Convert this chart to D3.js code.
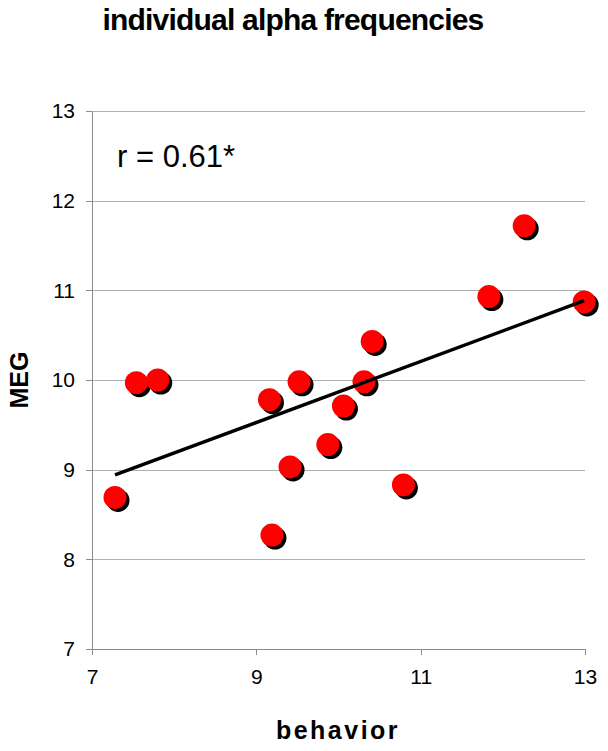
<!DOCTYPE html>
<html>
<head>
    <meta charset="utf-8">
    <title>individual alpha frequencies</title>
    <script src="https://d3js.org/d3.v7.min.js"></script>
    <style>
        body { margin: 0; background: #fff; }
        svg { display: block; font-family: "Liberation Sans", Arial, sans-serif; }
        .grid line { stroke: #b0b0b0; stroke-width: 1; }
        .axis path, .axis line { stroke: #8a8a8a; stroke-width: 1; shape-rendering: crispEdges; }
        .axis text { font-size: 21px; fill: #000; }
        .title { font-size: 30px; font-weight: bold; letter-spacing: -0.8px; }
        .axis-title { font-size: 25px; font-weight: bold; }
    </style>
</head>
<body>
<div id="chart"></div>
<script>
    // behaviour (x) vs MEG (y) individual alpha frequencies
    const behavior = [12.26, 11.83, 12.99, 10.41, 10.31, 9.52, 9.16, 10.06, 9.87, 9.41, 9.19, 10.79, 7.54, 7.80, 7.28];
    const meg      = [11.72, 10.93, 10.87, 10.43, 9.98, 9.98, 9.78, 9.71, 9.28, 9.03, 8.27, 8.83, 9.97, 10.00, 8.69];
    const xTicks = [7, 9, 11, 13];
    const yTicks = [7, 8, 9, 10, 11, 12, 13];
    const rLabel = "r = 0.61*";

    const W = 608, H = 751;
    const margin = { top: 111, right: 23, bottom: 102, left: 92 };
    const width = W - margin.left - margin.right;
    const height = H - margin.top - margin.bottom;

    const svg = d3.select("#chart").append("svg")
        .attr("width", W)
        .attr("height", H);

    const g = svg.append("g")
        .attr("transform", `translate(${margin.left},${margin.top})`);

    const x = d3.scaleLinear().domain([7, 13]).range([0, width]);
    const y = d3.scaleLinear().domain([7, 13]).range([height, 0]);

    // horizontal gridlines
    g.append("g")
        .attr("class", "grid")
        .selectAll("line")
        .data(yTicks.slice(1))
        .join("line")
        .attr("x1", 0)
        .attr("x2", width)
        .attr("y1", d => Math.round(y(d)) + 0.5)
        .attr("y2", d => Math.round(y(d)) + 0.5);

    // axes
    g.append("g")
        .attr("class", "axis")
        .attr("transform", `translate(0,${height})`)
        .call(d3.axisBottom(x).tickValues(xTicks).tickSize(6).tickSizeOuter(0).tickPadding(14).tickFormat(d3.format("d")));

    g.append("g")
        .attr("class", "axis")
        .call(d3.axisLeft(y).tickValues(yTicks).tickSize(6).tickSizeOuter(0).tickPadding(11).tickFormat(d3.format("d")));

    // points: black shadow + red dot
    const pts = behavior.map((b, i) => ({ b: b, m: meg[i] }));
    const dot = g.append("g").selectAll("g")
        .data(pts)
        .join("g");
    dot.append("circle")
        .attr("cx", d => x(d.b) + 3)
        .attr("cy", d => y(d.m) + 3)
        .attr("r", 11.5)
        .attr("fill", "#000");
    dot.append("circle")
        .attr("cx", d => x(d.b))
        .attr("cy", d => y(d.m))
        .attr("r", 11.5)
        .attr("fill", "#ff0000");

    // least-squares fit
    const mx = d3.mean(behavior), my = d3.mean(meg);
    const sxy = d3.sum(behavior, (b, i) => (b - mx) * (meg[i] - my));
    const sxx = d3.sum(behavior, b => (b - mx) * (b - mx));
    const slope = sxy / sxx, icpt = my - slope * mx;
    const [x0, x1] = d3.extent(behavior);
    g.append("line")
        .attr("x1", x(x0)).attr("y1", y(icpt + slope * x0))
        .attr("x2", x(x1)).attr("y2", y(icpt + slope * x1))
        .attr("stroke", "#000")
        .attr("stroke-width", 3.5);

    g.append("text")
        .attr("x", 25)
        .attr("y", 56)
        .style("font-size", "31px")
        .text(rLabel);

    // titles
    svg.append("text")
        .attr("class", "title")
        .attr("x", 293)
        .attr("y", 30)
        .attr("text-anchor", "middle")
        .text("individual alpha frequencies");

    svg.append("text")
        .attr("class", "axis-title")
        .attr("text-anchor", "middle")
        .attr("transform", `translate(28,${margin.top + height / 2}) rotate(-90)`)
        .text("MEG");

    svg.append("text")
        .attr("class", "axis-title")
        .attr("text-anchor", "middle")
        .attr("x", 338)
        .attr("y", 739)
        .style("letter-spacing", "2.5px")
        .text("behavior");
</script>
</body>
</html>
